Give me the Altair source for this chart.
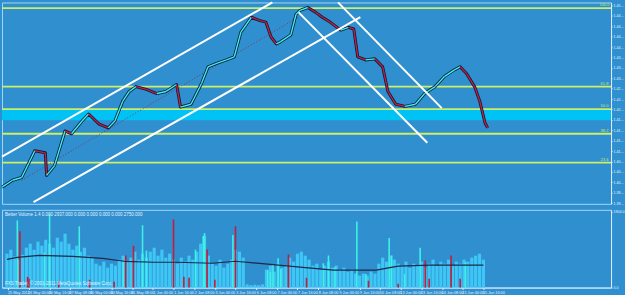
import altair as alt
import pandas as pd
import numpy as np

# ---------------- data ----------------
time_labels = ["25 May 2011", "26 May 00:00", "26 May 16:00", "27 May 08:00", "30 May 00:00",
               "30 May 16:00", "31 May 08:00", "1 Jun 00:00", "1 Jun 16:00", "2 Jun 08:00",
               "3 Jun 00:00", "3 Jun 16:00", "6 Jun 08:00", "7 Jun 00:00", "7 Jun 16:00",
               "8 Jun 08:00", "9 Jun 00:00", "9 Jun 16:00", "10 Jun 08:00", "13 Jun 00:00",
               "13 Jun 16:00", "14 Jun 08:00", "15 Jun 00:00", "15 Jun 16:00"]
time_ticks = [1, 17, 33, 49, 65, 81, 97, 113, 129, 145, 161, 177, 193, 209, 225, 241,
              257, 273, 289, 305, 321, 337, 353, 369]

price_ticks = [1.3957, 1.3987, 1.4017, 1.4047, 1.4077, 1.4107, 1.4137, 1.4167, 1.4197, 1.4227,
               1.4257, 1.4287, 1.4317, 1.4347, 1.4377, 1.4407, 1.4437, 1.4467, 1.4497, 1.4527]

price_hours = [0, 8, 15, 25, 33, 34, 40, 48, 53, 61, 66, 74, 81, 86, 92, 97, 102, 110, 118, 125,
               133, 136, 144, 152, 157, 163, 171, 177, 182, 190, 196, 201, 205, 209, 212, 220,
               224, 227, 233, 239, 244, 250, 258, 264, 268, 271, 277, 284, 290, 294, 300, 307,
               315, 322, 330, 337, 345, 349, 354, 360, 364, 368, 370]
price_close = [1.4003, 1.4023, 1.4031, 1.4108, 1.4102, 1.4037, 1.4065, 1.4165, 1.4157, 1.4194,
               1.4214, 1.4185, 1.4174, 1.4194, 1.4251, 1.4279, 1.4293, 1.4285, 1.4273, 1.4279,
               1.4299, 1.4234, 1.4242, 1.4302, 1.4350, 1.4359, 1.4370, 1.4379, 1.4450, 1.4493,
               1.4484, 1.4479, 1.4436, 1.4416, 1.4422, 1.4442, 1.4501, 1.4513, 1.4521, 1.4507,
               1.4493, 1.4479, 1.4456, 1.4464, 1.4459, 1.4379, 1.4370, 1.4373, 1.4350, 1.4279,
               1.4242, 1.4236, 1.4242, 1.4273, 1.4293, 1.4322, 1.4342, 1.4350, 1.4330, 1.4293,
               1.4251, 1.4188, 1.4174]

fib_levels = [1.4519, 1.4293, 1.4228, 1.4157, 1.4074]
fib_names = ["100.0", "61.8", "50.0", "38.2", "23.6"]
zone_low = [1.4196]
zone_high = [1.4228]

trend_x1 = [0, 24, 256, 226]
trend_y1 = [1.4091, 1.3960, 1.4536, 1.4507]
trend_x2 = [206, 273, 335, 324]
trend_y2 = [1.4536, 1.4493, 1.4231, 1.4131]
mid_x = [15, 227]
mid_y = [1.4023, 1.4496]

vol_hours = list(range(0, 370, 3))
vol_values = [850, 950, 780, 700, 820, 1000, 1100, 950, 1150, 1050, 1200, 1100, 1000, 1250, 1150,
              1350, 1100, 950, 1050, 900, 1000, 800, 750, 600, 550, 650, 500, 600, 550, 700,
              800, 650, 750, 900, 700, 850, 750, 900, 1000, 800, 950, 750, 850, 700, 600,
              750, 650, 800, 700, 900, 1100, 1300, 800, 600, 550, 700, 500, 600, 700, 950,
              900, 750, 80, 60, 70, 60, 80, 450, 550, 400, 600, 500, 550, 750, 650,
              850, 900, 800, 700, 550, 600, 450, 550, 650, 500, 550, 450, 500, 400, 450,
              350, 300, 350, 300, 400, 350, 600, 750, 650, 800, 700, 600, 550, 650, 500,
              600, 550, 650, 500, 600, 700, 550, 650, 600, 700, 550, 650, 600, 700, 650,
              750, 800, 850, 700]

spec_hours = [8, 10, 16, 17, 29, 33, 40, 56, 64, 83, 90, 92, 98, 105, 108, 129, 137, 141, 146,
              152, 153, 155, 161, 175, 177, 202, 204, 206, 210, 212, 218, 232, 245, 249, 254,
              271, 278, 280, 296, 298, 303, 308, 320, 324, 327, 344, 351, 355]
spec_values = [1684, 1415, 268, 220, 878, 1854, 146, 1537, 195, 146, 634, 805, 1049, 1562, 927,
               1708, 268, 244, 952, 1293, 1366, 952, 195, 1318, 1537, 439, 390, 586, 732, 464,
               830, 244, 610, 805, 512, 1659, 342, 171, 1244, 805, 98, 342, 1000, 683, 220,
               805, 220, 634]
spec_kind = ["purple", "red", "yellow", "yellow", "green", "navy", "yellow", "green", "yellow",
             "yellow", "navy", "red", "red", "navy", "green", "red", "yellow", "yellow", "green",
             "navy", "green", "red", "yellow", "navy", "red", "navy", "green", "navy", "purple",
             "green", "red", "yellow", "navy", "navy", "green", "navy", "green", "yellow", "navy",
             "green", "yellow", "green", "navy", "red", "yellow", "red", "yellow", "green"]

ma_hours = [0, 8, 25, 51, 74, 91, 114, 131, 159, 177, 202, 227, 253, 271, 286, 303, 328, 369]
ma_values = [708, 756, 805, 781, 732, 659, 634, 634, 610, 659, 586, 512, 439, 439, 439, 537, 561, 561]

# ---------------- tables ----------------
df_p = pd.DataFrame({"h": price_hours, "close": price_close})
seg = df_p.copy()
seg["h2"] = seg["h"].shift(-1)
seg["close2"] = seg["close"].shift(-1)
seg = seg.dropna()
seg["dir"] = np.where(seg["close2"] >= seg["close"], "up", "down")

df_fib = pd.DataFrame({"p": fib_levels, "name": fib_names, "hx": [459] * len(fib_levels)})
df_zone = pd.DataFrame({"lo": zone_low, "hi": zone_high, "a": [0], "b": [464]})
df_tr = pd.DataFrame({"x1": trend_x1, "y1": trend_y1, "x2": trend_x2, "y2": trend_y2})
df_mid = pd.DataFrame({"x1": [mid_x[0]], "y1": [mid_y[0]], "x2": [mid_x[1]], "y2": [mid_y[1]]})
df_v = pd.DataFrame({"h": vol_hours, "v": vol_values})
df_s = pd.DataFrame({"h": spec_hours, "v": spec_values, "k": spec_kind})
df_ma = pd.DataFrame({"h": ma_hours, "v": ma_values})

FONT = "Liberation Sans"
BG = "#2f8fcf"
LBL = "#e6f2ff"

W = 611
xs = alt.Scale(domain=[0, 464], nice=False, zero=False)
ys = alt.Scale(domain=[1.3955, 1.45356], nice=False, zero=False)
yaxis = alt.Axis(orient="right", values=price_ticks, format=".5f", labelFontSize=3.6,
                 labelColor=LBL, tickColor="#d8ecff", tickSize=1, domainColor="#d8ecff",
                 labelPadding=1, grid=False, title=None, labelFont=FONT, labelLimit=12)

band = alt.Chart(df_zone).mark_rect(color="#00c2f5").encode(
    x=alt.X("a:Q", scale=xs, axis=None), x2="b:Q",
    y=alt.Y("lo:Q", scale=ys, axis=yaxis), y2="hi:Q")

fibs = alt.Chart(df_fib).mark_rule(color="#cdee66", strokeWidth=1.8).encode(
    y=alt.Y("p:Q", scale=ys, axis=yaxis))
fib_text = alt.Chart(df_fib).mark_text(fontSize=4, color="#cdee66", dy=-3, font=FONT).encode(
    x=alt.X("hx:Q", scale=xs, axis=None), y=alt.Y("p:Q", scale=ys, axis=yaxis), text="name:N")

mid = alt.Chart(df_mid).mark_rule(color="#a02030", strokeDash=[1, 2], strokeWidth=1, opacity=0.8).encode(
    x=alt.X("x1:Q", scale=xs, axis=None), y=alt.Y("y1:Q", scale=ys, axis=yaxis), x2="x2:Q", y2="y2:Q")

bars_line = alt.Chart(df_p).mark_line(color="#0b1a3c", strokeWidth=3, strokeJoin="round").encode(
    x=alt.X("h:Q", scale=xs, axis=None), y=alt.Y("close:Q", scale=ys, axis=yaxis))

trend_line = alt.Chart(seg).mark_rule(strokeWidth=1.4).encode(
    x=alt.X("h:Q", scale=xs, axis=None), y=alt.Y("close:Q", scale=ys, axis=yaxis),
    x2="h2:Q", y2="close2:Q",
    color=alt.Color("dir:N", scale=alt.Scale(domain=["up", "down"], range=["#3ff0e6", "#c41e3a"]),
                    legend=None))

trends = alt.Chart(df_tr).mark_rule(color="white", strokeWidth=2).encode(
    x=alt.X("x1:Q", scale=xs, axis=None), y=alt.Y("y1:Q", scale=ys, axis=yaxis), x2="x2:Q", y2="y2:Q")

price = alt.layer(band, fibs, fib_text, mid, bars_line, trend_line, trends).properties(
    width=W, height=202)

# volume panel
vs = alt.Scale(domain=[0, 1950], nice=False, zero=True)
vaxis = alt.Axis(orient="right", values=[0, 1904], format=".1f", labelFontSize=3.6, labelColor=LBL,
                 tickColor="#d8ecff", tickSize=1, domainColor="#d8ecff", labelPadding=1,
                 grid=False, title=None, labelFont=FONT, labelLimit=12)
label_js = "[" + ",".join("'" + t + "'" for t in time_labels) + "]"
xaxis = alt.Axis(values=time_ticks, labelExpr=label_js + "[round((datum.value-1)/16)]",
                 labelFontSize=3.8, labelColor=LBL, labelFlush=False, labelOffset=10,
                 tickColor="#d8ecff",
                 tickSize=2, domainColor="#d8ecff", labelPadding=1, grid=False, title=None,
                 labelFont=FONT, labelOverlap=False)

vbars = alt.Chart(df_v).mark_bar(color="#3ec6f4", size=3.2).encode(
    x=alt.X("h:Q", scale=xs, axis=xaxis), y=alt.Y("v:Q", scale=vs, axis=vaxis))
sbars = alt.Chart(df_s).mark_bar(size=1.6).encode(
    x=alt.X("h:Q", scale=xs, axis=xaxis), y=alt.Y("v:Q", scale=vs, axis=vaxis),
    color=alt.Color("k:N", scale=alt.Scale(domain=["navy", "red", "green", "yellow", "purple"],
                                           range=["#0c1a6a", "#b0283c", "#22e07a", "#e4f56a", "#a048f0"]),
                    legend=None))
ma = alt.Chart(df_ma).mark_line(color="#1b2a48", strokeWidth=1.2, strokeJoin="round").encode(
    x=alt.X("h:Q", scale=xs, axis=xaxis), y=alt.Y("v:Q", scale=vs, axis=vaxis))
title_txt = alt.Chart(pd.DataFrame({"t": ["Better Volume 1.4  0.000 2937.000 0.000 0.000 0.000 0.000 2750.000"]})).mark_text(
    align="left", baseline="top", fontSize=4.5, color=LBL, font=FONT).encode(
    x=alt.value(3), y=alt.value(2), text="t:N")
copy_txt = alt.Chart(pd.DataFrame({"t": ["FXS Trader, © 2001-2011 MetaQuotes Software Corp."]})).mark_text(
    align="left", baseline="bottom", fontSize=4.5, color=LBL, font=FONT).encode(
    x=alt.value(3), y=alt.value(76), text="t:N")

volume = alt.layer(vbars, sbars, ma, title_txt, copy_txt).properties(width=W, height=78)

chart = alt.vconcat(price, volume, spacing=3).properties(
    padding={"left": 0, "top": 0, "right": 0, "bottom": 0}, background=BG
).configure_view(stroke="#a6d6f6", strokeWidth=1).configure_concat(spacing=3)

chart.save("out.html", embed_options={"renderer": "svg", "actions": False})
